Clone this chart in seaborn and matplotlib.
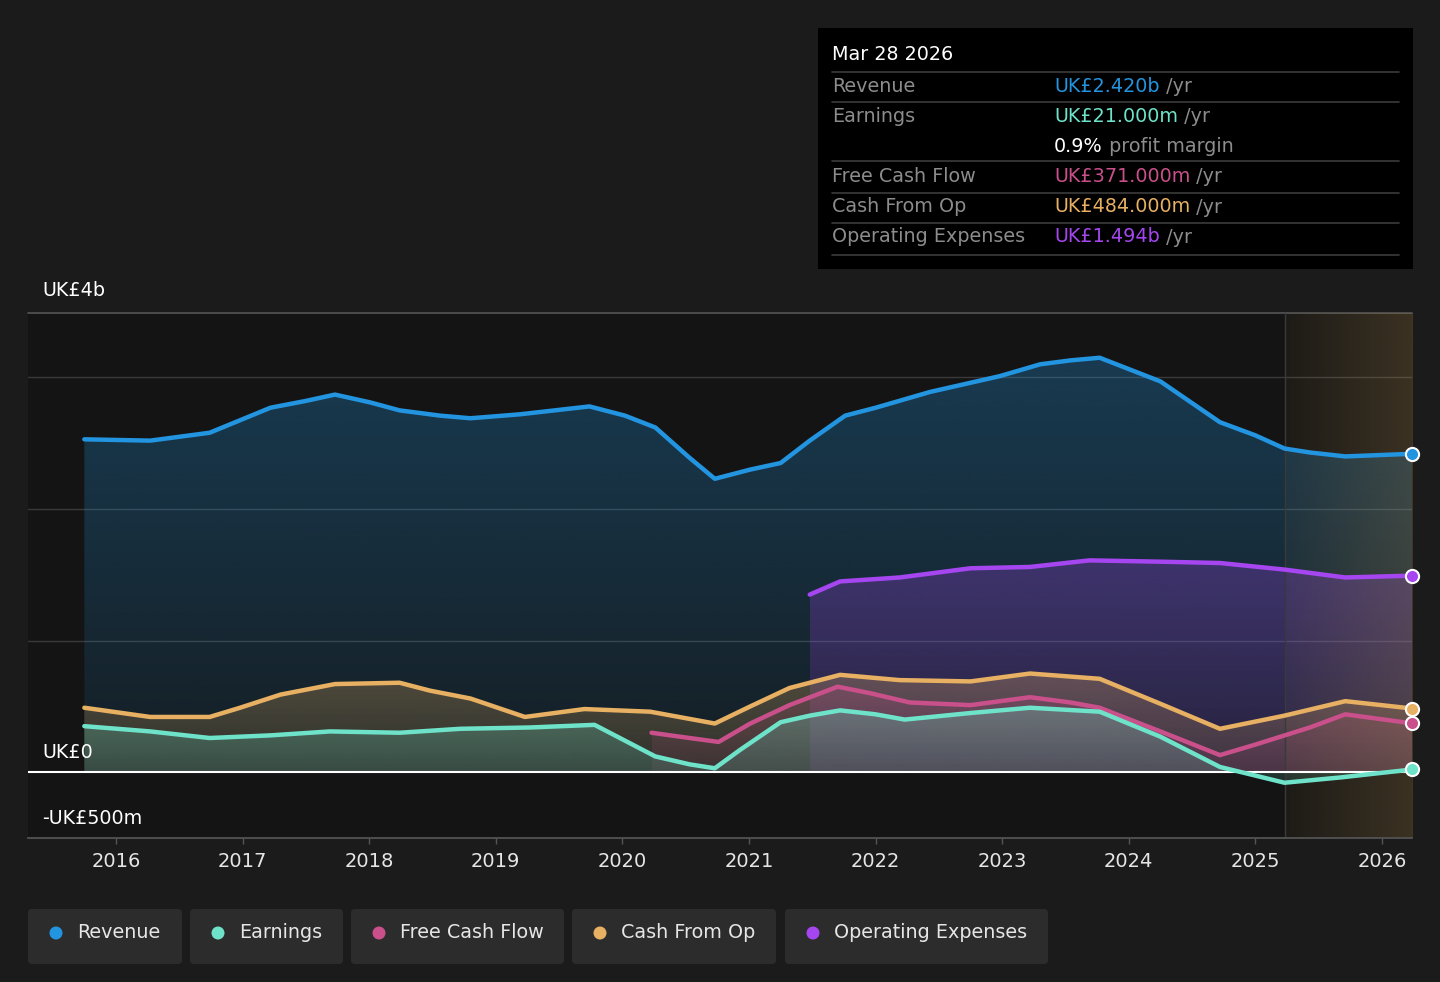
import numpy as np
import pandas as pd
import seaborn as sns
import matplotlib.pyplot as plt
import matplotlib.colors as mcolors
from matplotlib.patches import FancyBboxPatch, PathPatch, Rectangle, Circle
from matplotlib.lines import Line2D

# values in UK£ billions, x in decimal years
rev_years = [2015.75, 2016.27, 2016.74, 2017.22, 2017.49, 2017.73, 2018.01, 2018.24, 2018.56, 2018.80,
             2019.19, 2019.74, 2020.02, 2020.26, 2020.53, 2020.73, 2021.01, 2021.25, 2021.48, 2021.76,
             2022.00, 2022.43, 2022.98, 2023.30, 2023.54, 2023.77, 2024.01, 2024.25, 2024.72, 2025.00,
             2025.23, 2025.43, 2025.71, 2026.24]
rev_vals = [2.53, 2.52, 2.58, 2.77, 2.82, 2.87, 2.81, 2.75, 2.71, 2.69,
            2.72, 2.78, 2.71, 2.62, 2.39, 2.23, 2.30, 2.35, 2.52, 2.71,
            2.77, 2.89, 3.01, 3.10, 3.13, 3.15, 3.06, 2.97, 2.66, 2.56,
            2.46, 2.43, 2.40, 2.42]

earn_years = [2015.75, 2016.27, 2016.74, 2017.22, 2017.69, 2018.24, 2018.72, 2019.27, 2019.78, 2019.98,
              2020.26, 2020.53, 2020.73, 2020.93, 2021.25, 2021.48, 2021.72, 2022.00, 2022.23, 2022.75,
              2023.22, 2023.77, 2024.25, 2024.72, 2025.23, 2025.67, 2026.24]
earn_vals = [0.35, 0.31, 0.26, 0.28, 0.31, 0.30, 0.33, 0.34, 0.36, 0.26,
             0.12, 0.06, 0.03, 0.17, 0.38, 0.43, 0.47, 0.44, 0.40, 0.45,
             0.49, 0.46, 0.27, 0.04, -0.08, -0.04, 0.021]

fcf_years = [2020.23, 2020.53, 2020.76, 2021.01, 2021.32, 2021.70, 2021.96, 2022.27, 2022.75, 2023.22,
             2023.54, 2023.77, 2024.25, 2024.72, 2025.00, 2025.43, 2025.71, 2026.24]
fcf_vals = [0.30, 0.26, 0.23, 0.37, 0.51, 0.65, 0.60, 0.53, 0.51, 0.57,
            0.53, 0.49, 0.31, 0.13, 0.21, 0.34, 0.44, 0.371]

cfo_years = [2015.75, 2016.27, 2016.74, 2016.98, 2017.30, 2017.73, 2018.24, 2018.48, 2018.80, 2019.23,
             2019.70, 2020.22, 2020.73, 2021.01, 2021.32, 2021.72, 2022.19, 2022.75, 2023.22, 2023.77,
             2024.25, 2024.72, 2025.23, 2025.71, 2026.24]
cfo_vals = [0.49, 0.42, 0.42, 0.49, 0.59, 0.67, 0.68, 0.62, 0.56, 0.42,
            0.48, 0.46, 0.37, 0.50, 0.64, 0.74, 0.70, 0.69, 0.75, 0.71,
            0.52, 0.33, 0.43, 0.54, 0.484]

opex_years = [2021.48, 2021.72, 2022.19, 2022.75, 2023.22, 2023.69, 2024.25, 2024.72, 2025.23, 2025.71, 2026.24]
opex_vals = [1.35, 1.45, 1.48, 1.55, 1.56, 1.61, 1.60, 1.59, 1.54, 1.48, 1.494]

year_ticks = list(range(2016, 2027))
forecast_start = 2025.23

series = [
    ("Revenue", rev_years, rev_vals, "#2394df", 0.30, 0.08),
    ("Operating Expenses", opex_years, opex_vals, "#a646f0", 0.28, 0.12),
    ("Cash From Op", cfo_years, cfo_vals, "#e8b062", 0.28, 0.12),
    ("Free Cash Flow", fcf_years, fcf_vals, "#c9508a", 0.20, 0.10),
    ("Earnings", earn_years, earn_vals, "#6ee3c9", 0.28, 0.14),
]
legend_order = ["Revenue", "Earnings", "Free Cash Flow", "Cash From Op", "Operating Expenses"]
colors = {s[0]: s[3] for s in series}

sns.set_theme(style="dark")
plt.rcParams['font.family'] = ['DejaVu Sans']

W, H = 1440, 982
FS = 13.8
fig = plt.figure(figsize=(W / 100, H / 100), dpi=100, facecolor='#1b1b1b')
ax = fig.add_axes([28 / W, 1 - 838 / H, (1412 - 28) / W, (838 - 313) / H])
ax.set_facecolor('#141414')

XMIN, XMAX = 2015.305, 2026.237
YMIN, YMAX = -0.5, 3.49


def grad_fill(x, y, color, a_top, a_bot, z):
    poly = ax.fill_between(x, y, 0, color='none', lw=0)
    clip = PathPatch(poly.get_paths()[0], transform=ax.transData, facecolor='none', edgecolor='none')
    ax.add_patch(clip)
    lo, hi = min(0, min(y)), max(y)
    img = np.zeros((200, 1, 4))
    img[:, 0, :3] = mcolors.to_rgb(color)
    img[:, 0, 3] = np.linspace(a_top, a_bot, 200)
    im = ax.imshow(img, aspect='auto', extent=[min(x), max(x), lo, hi], origin='upper', zorder=z)
    im.set_clip_path(clip)


for i, (name, xs, ys, c, at, ab) in enumerate(series):
    grad_fill(xs, ys, c, at, ab, 1 + i * 0.1)

# forecast shading
fimg = np.zeros((1, 200, 4))
fimg[0, :, :3] = mcolors.to_rgb('#b8904e')
fimg[0, :, 3] = np.linspace(0.06, 0.24, 200)
ax.imshow(fimg, aspect='auto', extent=[forecast_start, XMAX, YMIN, YMAX], zorder=2)
ax.axvline(forecast_start, color='#3a3a3a', lw=1, zorder=2.1)

for y in [1, 2, 3]:
    ax.axhline(y, color='#3a3a3a', lw=1, zorder=0.5)
ax.axhline(YMAX, color='#555555', lw=1.2, zorder=0.5, clip_on=False)
ax.axhline(0, color='white', lw=1.5, zorder=2.5)

for name, xs, ys, c, at, ab in series:
    sns.lineplot(x=xs, y=ys, ax=ax, color=c, lw=3.2, legend=False, zorder=3, sort=True)
    ax.scatter([xs[-1]], [ys[-1]], s=90, color=c, edgecolor='white', linewidth=1.5, zorder=5, clip_on=False)

ax.set_xlim(XMIN, XMAX)
ax.set_ylim(YMIN, YMAX)
ax.set_yticks([])
ax.set_xticks(year_ticks)
ax.set_xticklabels([str(t) for t in year_ticks], color='#e6e6e6', fontsize=14)
ax.tick_params(axis='x', length=4, width=1, color='#555555', pad=6, bottom=True)
ax.grid(False)
for s in ['top', 'left', 'right']:
    ax.spines[s].set_visible(False)
ax.spines['bottom'].set_color('#555555')
ax.set_xlabel('')
ax.set_ylabel('')


def ftext(x, y, s, **kw):
    return fig.text(x / W, 1 - y / H, s, va='center', **kw)


renderer = fig.canvas.get_renderer()


def after(t, s, **kw):
    bb = t.get_window_extent(renderer)
    x0, y0 = fig.transFigure.inverted().transform((bb.x1, (bb.y0 + bb.y1) / 2))
    return fig.text(x0, y0, s, va='center', ha='left', **kw)


ftext(42, 291, "UK£4b", color='white', fontsize=FS)
ftext(42, 752, "UK£0", color='white', fontsize=FS)
ftext(42, 818, "-UK£500m", color='white', fontsize=FS)

# tooltip
fig.add_artist(Rectangle((818 / W, 1 - 269 / H), 595 / W, 241 / H, transform=fig.transFigure,
                         facecolor='black', edgecolor='none'))
ftext(832, 55, "Mar 28 2026", color='white', fontsize=FS)
for yy in [72, 102, 161, 193, 223, 255]:
    fig.add_artist(Line2D([832 / W, 1399 / W], [1 - yy / H, 1 - yy / H], transform=fig.transFigure,
                          color='#3c3c3c', lw=1.2))
rows = [
    (86, "Revenue", "UK£2.420b", colors["Revenue"]),
    (116, "Earnings", "UK£21.000m", colors["Earnings"]),
    (176, "Free Cash Flow", "UK£371.000m", colors["Free Cash Flow"]),
    (207, "Cash From Op", "UK£484.000m", colors["Cash From Op"]),
    (237, "Operating Expenses", "UK£1.494b", colors["Operating Expenses"]),
]
for yy, lab, val, c in rows:
    ftext(832, yy, lab, color='#8c8c8c', fontsize=FS)
    t = ftext(1054, yy, val, color=c, fontsize=FS)
    after(t, " /yr", color='#8c8c8c', fontsize=FS)
t = ftext(1054, 146, "0.9%", color='white', fontsize=FS)
after(t, " profit margin", color='#8c8c8c', fontsize=FS)

# legend buttons
boxes = [(28, 182), (190, 343), (351, 564), (572, 776), (785, 1048)]
for (x0, x1), name in zip(boxes, legend_order):
    fig.add_artist(FancyBboxPatch((x0 / 100, (H - 964) / 100), (x1 - x0) / 100, 55 / 100,
                                  boxstyle="round,pad=0,rounding_size=0.04",
                                  transform=fig.dpi_scale_trans, facecolor='#2c2c2c', edgecolor='none'))
    fig.add_artist(Circle(((x0 + 28) / 100, (H - 933) / 100), 0.065, transform=fig.dpi_scale_trans,
                          facecolor=colors[name], edgecolor='none'))
    ftext(x0 + 49, 933, name, color='#e6e6e6', fontsize=FS)

fig.savefig('out.png', dpi=100, facecolor=fig.get_facecolor())
